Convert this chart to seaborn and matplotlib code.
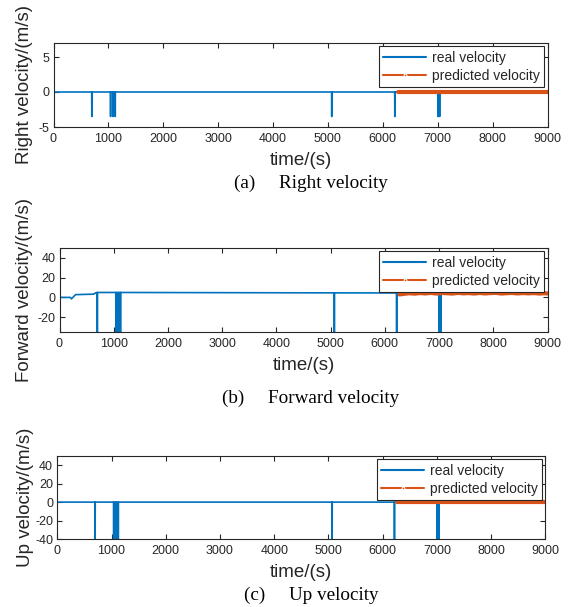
import matplotlib
matplotlib.use("Agg")
import matplotlib.pyplot as plt
import seaborn as sns
import pandas as pd

sns.set_theme(style="ticks")
plt.rcParams["font.family"] = ["Liberation Sans", "DejaVu Sans"]
plt.rcParams["axes.unicode_minus"] = False

BLUE = "#0072BD"
ORANGE = "#D95319"
INK = "#262626"
W_PX, H_PX = 573, 607

# ---- measured (real) velocity -------------------------------------------
t_real = [0, 696, 698, 700, 1038, 1040, 1042, 1083, 1085, 1087, 1123, 1125, 1127,
          5067, 5069, 5071, 6216, 6218, 6220, 7003, 7005, 7007, 7033, 7035, 7037, 9000]
right_real = [0, 0, -3.5, 0, 0, -3.5, 0, 0, -3.5, 0, 0, -3.5, 0,
              0, -3.5, 0, 0, -3.5, 0, 0, -3.5, 0, 0, -3.5, 0, 0]
up_real = [0, 0, -40, 0, 0, -40, 0, 0, -40, 0, 0, -40, 0,
           0, -40, 0, 0, -40, 0, 0, -40, 0, 0, -40, 0, 0]

t_fwd = [0, 200, 220, 295, 630, 660, 694, 696, 698, 700, 1038, 1040, 1042,
         1083, 1085, 1087, 1123, 1125, 1127, 3000, 5067, 5069, 5071,
         6216, 6218, 6220, 7003, 7005, 7007, 7033, 7035, 7037, 9000]
fwd_real = [0, 0, -1.5, 2.8, 3.3, 4.5, 5, 5, -40, 5, 5, -40, 5,
            5, -40, 5, 5, -40, 5, 4.8, 4.6, -40, 4.6,
            4.5, -40, 4.5, 4.5, -40, 4.5, 4.5, -40, 4.5, 4.5]

# ---- predicted velocity ---------------------------------------------------
t_pred = [6270, 6350, 6450, 6550, 6650, 6750, 6850, 6950, 7050, 7150, 7250, 7350,
          7450, 7550, 7650, 7750, 7850, 7950, 8050, 8150, 8250, 8350, 8450, 8550,
          8650, 8750, 8850, 8950, 9000]
right_pred = [0.0, 0.0, 0.0, 0.0, 0.0, 0.0, 0.0, 0.0, 0.0, 0.0, 0.0, 0.0,
              0.0, 0.0, 0.0, 0.0, 0.0, 0.0, 0.0, 0.0, 0.0, 0.0, 0.0, 0.0,
              0.0, 0.0, 0.0, 0.0, 0.0]
fwd_pred = [3.0, 3.6, 4.2, 3.8, 4.4, 4.0, 4.6, 3.9, 4.5, 4.2, 3.9, 4.6,
            4.1, 4.4, 3.9, 4.5, 4.0, 4.4, 4.6, 3.9, 4.3, 4.5, 4.0, 4.4,
            4.1, 4.4, 3.9, 4.2, 4.0]
up_pred = [0.0, 0.0, 0.0, 0.0, 0.0, 0.0, 0.0, 0.0, 0.0, 0.0, 0.0, 0.0,
           0.0, 0.0, 0.0, 0.0, 0.0, 0.0, 0.0, 0.0, 0.0, 0.0, 0.0, 0.0,
           0.0, 0.0, 0.0, 0.0, 0.0]

x_ticks = [0, 1000, 2000, 3000, 4000, 5000, 6000, 7000, 8000, 9000]

# axes boxes in pixels: left, top, right, bottom
panels = [
    dict(t=t_real, real=right_real, pred=right_pred, ylabel="Right velocity/(m/s)",
         ylim=(-5, 7), yticks=[-5, 0, 5], caption="(a)     Right velocity",
         box=(53.5, 43, 547.5, 127), cap_y=183),
    dict(t=t_fwd, real=fwd_real, pred=fwd_pred, ylabel="Forward velocity/(m/s)",
         ylim=(-35, 50), yticks=[-20, 0, 20, 40], caption="(b)     Forward velocity",
         box=(59.5, 248, 547.5, 332), cap_y=398),
    dict(t=t_real, real=up_real, pred=up_pred, ylabel="Up velocity/(m/s)",
         ylim=(-40, 50), yticks=[-40, -20, 0, 20, 40], caption="(c)     Up velocity",
         box=(57.3, 456, 545.3, 539), cap_y=595),
]

fig = plt.figure(figsize=(W_PX / 100, H_PX / 100), dpi=100)

for p in panels:
    l, t, r, b = p["box"]
    ax = fig.add_axes([l / W_PX, 1 - b / H_PX, (r - l) / W_PX, (b - t) / H_PX])
    real_df = pd.DataFrame({"time": p["t"], "v": p["real"]})
    pred_df = pd.DataFrame({"time": t_pred, "v": p["pred"]})
    sns.lineplot(data=real_df, x="time", y="v", ax=ax, color=BLUE, lw=1.2,
                 estimator=None, sort=False, label="real velocity")
    sns.lineplot(data=pred_df, x="time", y="v", ax=ax, color=ORANGE, lw=3.0,
                 estimator=None, sort=False, label="predicted velocity")
    ax.set_xlim(0, 9000)
    ax.set_ylim(*p["ylim"])
    ax.set_xticks(x_ticks)
    ax.set_yticks(p["yticks"])
    ax.tick_params(direction="in", top=True, right=True, length=3.8, width=0.8,
                   labelsize=9, colors=INK)
    ax.tick_params(axis="x", pad=4)
    ax.tick_params(axis="y", pad=3)
    for s in ax.spines.values():
        s.set_color(INK)
        s.set_linewidth(0.8)
    h_px = b - t
    w_px = r - l
    ax.set_xlabel("time/(s)", fontsize=13.5, color=INK)
    ax.xaxis.label.set_va("center")
    ax.xaxis.set_label_coords(0.5, -33.5 / h_px)
    ax.set_ylabel(p["ylabel"], fontsize=13.5, color=INK)
    ax.yaxis.label.set_va("center")
    ax.yaxis.set_label_coords((25 - l) / w_px, 0.5)
    leg = ax.legend(loc="upper right", fontsize=10, frameon=True, fancybox=False,
                    edgecolor=INK, framealpha=1, handlelength=3.1,
                    borderaxespad=0.25, borderpad=0.3, labelspacing=0.3,
                    handletextpad=0.4)
    leg.get_frame().set_linewidth(0.8)
    real_h, pred_h = leg.get_lines()
    real_h.set_linewidth(1.5)
    pred_h.set_linewidth(1.5)
    pred_h.set_marker(".")
    pred_h.set_markersize(4)
    fig.text(311 / W_PX, 1 - p["cap_y"] / H_PX, p["caption"], ha="center", va="center",
             fontsize=13.8, family=["Liberation Serif", "DejaVu Serif"], color="black")

fig.savefig("out.png", dpi=100)
